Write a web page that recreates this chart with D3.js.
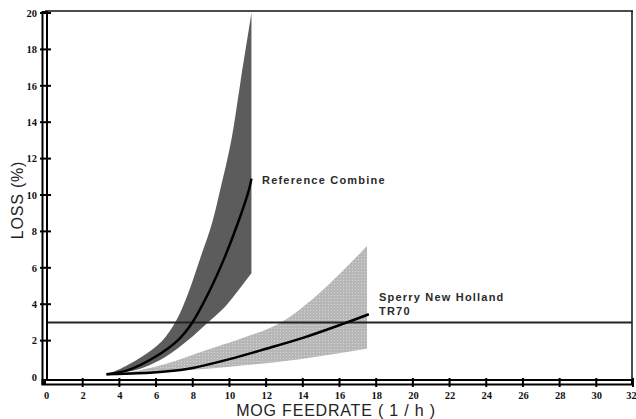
<!DOCTYPE html>
<html><head><meta charset="utf-8">
<script src="https://cdn.jsdelivr.net/npm/d3@7/dist/d3.min.js"></script>
<style>body{margin:0;background:#fff}svg{display:block}</style>
</head><body>
<svg id="c" width="636" height="419"></svg>
<script>
const xTicks = [0,2,4,6,8,10,12,14,16,18,20,22,24,26,28,30,32];
const yTicks = [0,2,4,6,8,10,12,14,16,18,20];
const thresholdLoss = 3;

// Reference Combine band: upper (left) edge and lower (right) edge
const refUpX = [3.3, 3.9, 5.2, 6.3, 7.1, 7.75, 8.4, 9.05, 9.5, 10.1, 10.6, 11.2];
const refUpY = [0.15, 0.38, 1.1, 1.95, 3.1, 4.6, 6.5, 8.45, 10.3, 13.0, 16.2, 20.0];
const refLoX = [3.3, 4.5, 5.4, 6.5, 7.75, 8.8, 9.75, 10.5, 11.2, 11.2];
const refLoY = [0.15, 0.3, 0.55, 1.1, 2.03, 2.97, 3.85, 4.78, 5.7, 20.0];
const refMeanX = [3.3, 4.47, 5.94, 7.2, 7.96, 8.94, 9.75, 10.46, 11.06, 11.2];
const refMeanY = [0.15, 0.38, 1.1, 2.03, 2.97, 4.78, 6.6, 8.46, 10.27, 10.9];

// Sperry New Holland TR70 band
const spUpX = [3.3, 5.0, 6.7, 8.8, 10.6, 12.8, 15.0, 17.5];
const spUpY = [0.15, 0.35, 0.77, 1.5, 2.1, 3.0, 4.7, 7.2];
const spLoX = [3.3, 6.2, 9.9, 13.5, 17.5, 17.5];
const spLoY = [0.15, 0.27, 0.55, 0.93, 1.55, 7.2];
const spMeanX = [3.3, 5.0, 6.5, 8.0, 10.0, 12.0, 14.0, 16.0, 17.6];
const spMeanY = [0.15, 0.2, 0.3, 0.5, 0.98, 1.55, 2.15, 2.85, 3.45];

const svg = d3.select('#c');
const x = d3.scaleLinear().domain([0,32]).range([46,633]);
const y = d3.scaleLinear().domain([0,20]).range([377,13]);

const defs = svg.append('defs');
const pat = defs.append('pattern').attr('id','dots').attr('width',3).attr('height',3).attr('patternUnits','userSpaceOnUse');
pat.append('rect').attr('width',3).attr('height',3).attr('fill','#b7b7b7');
pat.append('rect').attr('x',1).attr('y',1).attr('width',1).attr('height',1).attr('fill','#d6d6d6');

const lineGen = d3.line().x(d=>x(d[0])).y(d=>y(d[1])).curve(d3.curveCatmullRom.alpha(0.5));
const pts = (xs, ys) => xs.map((v,i)=>[v, ys[i]]);
const band = (ux, uy, lx, ly) => {
  const up = lineGen(pts(ux, uy));
  const lo = d3.line().x(d=>x(d[0])).y(d=>y(d[1]))(pts(lx, ly).slice(-2).reverse());
  const loCurve = lineGen(pts(lx, ly).slice(0, -1).reverse());
  return up + lo.replace(/^M/, 'L') + loCurve.replace(/^M/, 'L') + 'Z';
};

svg.append('path').attr('d', band(spUpX, spUpY, spLoX, spLoY)).attr('fill','url(#dots)');
svg.append('path').attr('d', band(refUpX, refUpY, refLoX, refLoY)).attr('fill','#5c5c5c');

// frame top/right
svg.append('line').attr('x1',45).attr('x2',633).attr('y1',11).attr('y2',11).attr('stroke','#111').attr('stroke-width',1.5);
svg.append('line').attr('x1',632).attr('x2',632).attr('y1',11).attr('y2',383).attr('stroke','#111').attr('stroke-width',1.5);

// threshold line
svg.append('line').attr('x1',48).attr('x2',632).attr('y1',y(thresholdLoss)).attr('y2',y(thresholdLoss)).attr('stroke','#222').attr('stroke-width',2);

svg.append('path').attr('d', lineGen(pts(refMeanX, refMeanY))).attr('fill','none').attr('stroke','#000').attr('stroke-width',2.5);
svg.append('path').attr('d', lineGen(pts(spMeanX, spMeanY))).attr('fill','none').attr('stroke','#000').attr('stroke-width',2.5);

// axes as double-line tubes
svg.append('rect').attr('x',41.5).attr('y',11).attr('width',6.5).attr('height',374).attr('fill','#000');
svg.append('rect').attr('x',43.5).attr('y',13).attr('width',2.5).attr('height',368).attr('fill','#fff');
svg.append('rect').attr('x',41.5).attr('y',379).attr('width',592).attr('height',6.5).attr('fill','#000');
svg.append('rect').attr('x',46).attr('y',381).attr('width',585).attr('height',2.5).attr('fill','#fff');

const gx = svg.append('g').attr('transform','translate(0,382)')
  .call(d3.axisBottom(x).tickValues(xTicks).tickSize(0).tickPadding(10).tickFormat(d3.format('d')));
gx.select('.domain').remove();
gx.selectAll('text').attr('font-family','Liberation Serif').attr('font-weight','bold').attr('font-size',10.5).attr('fill','#111')
  .attr('dx', d => d === 32 ? -2 : 0);
svg.selectAll('.xt').data(xTicks.slice(1)).enter().append('line')
  .attr('x1',d=>x(d)).attr('x2',d=>x(d)).attr('y1',378).attr('y2',387).attr('stroke','#000').attr('stroke-width',2);

const gy = svg.append('g').attr('transform','translate(41,0)')
  .call(d3.axisLeft(y).tickValues(yTicks).tickSize(0).tickPadding(4).tickFormat(d3.format('d')));
gy.select('.domain').remove();
gy.selectAll('text').attr('font-family','Liberation Serif').attr('font-weight','bold').attr('font-size',10.5).attr('fill','#111');
svg.selectAll('.yt').data(yTicks.slice(1)).enter().append('line')
  .attr('x1',40).attr('x2',51).attr('y1',d=>y(d)).attr('y2',d=>y(d)).attr('stroke','#000').attr('stroke-width',2);

svg.append('text').attr('x',336).attr('y',416).attr('text-anchor','middle')
  .attr('font-family','Liberation Sans').attr('font-size',16).attr('letter-spacing',0.8).attr('fill','#222').text('MOG  FEEDRATE  ( 1 / h )');
svg.append('text').attr('transform','translate(23,200) rotate(-90)').attr('text-anchor','middle')
  .attr('font-family','Liberation Sans').attr('font-size',16).attr('letter-spacing',0.8).attr('fill','#222').text('LOSS  (%)');

const lab = (t, xx, yy) => svg.append('text').attr('x',xx).attr('y',yy).attr('font-family','Liberation Sans').attr('font-weight','bold')
  .attr('font-size',11).attr('letter-spacing',1.2).attr('fill','#2a2a2a').text(t);
lab('Reference  Combine', 262, 184);
lab('Sperry  New  Holland', 379, 301);
lab('TR70', 379, 315);
</script>
</body></html>
